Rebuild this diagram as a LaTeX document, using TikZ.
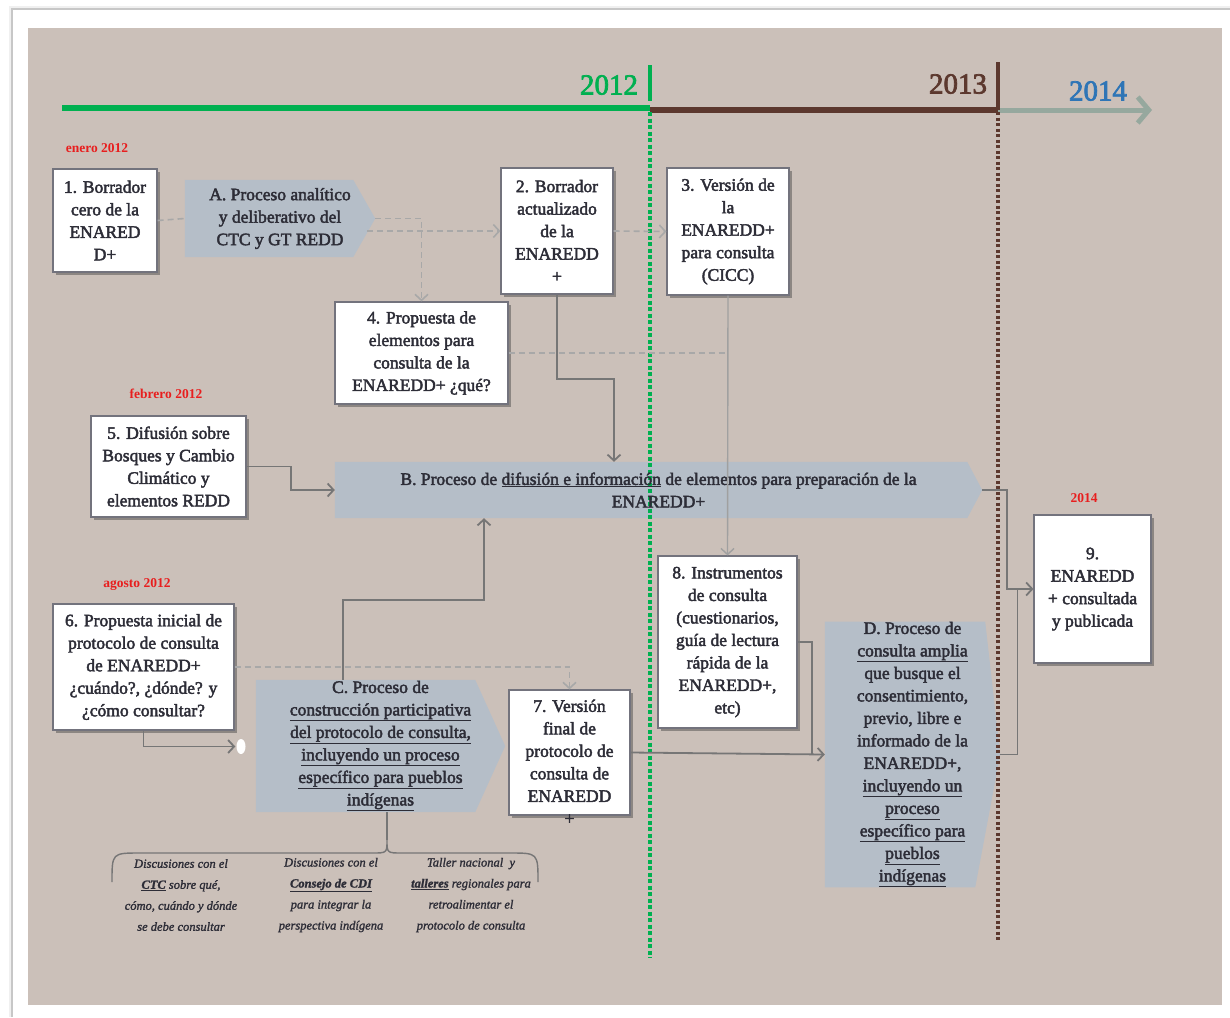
\documentclass[tikz,border=0pt]{standalone}
\usepackage{fontspec}
\setmainfont{Liberation Serif}
\newfontfamily\boxfont{Liberation Serif}[FakeBold=2.5]
\newfontfamily\itfont{Liberation Serif Italic}[FakeBold=1.5]
\usetikzlibrary{arrows.meta,shadows,shapes.geometric,calc}
\definecolor{bgbeige}{RGB}{203,192,185}
\definecolor{procfill}{RGB}{181,190,200}
\definecolor{tlgreen}{RGB}{0,176,80}
\definecolor{tlbrown}{RGB}{92,56,46}
\definecolor{tlgrey}{RGB}{150,168,158}
\definecolor{yrblue}{RGB}{46,117,182}
\definecolor{datered}{RGB}{232,30,30}
\definecolor{txt}{RGB}{45,45,55}
\definecolor{conn}{RGB}{118,118,118}
\definecolor{lconn}{RGB}{160,160,160}
\definecolor{dconn}{RGB}{168,168,168}
\definecolor{boxline}{RGB}{115,115,125}
\pgfdeclarelayer{back}
\pgfdeclarelayer{mid}
\pgfsetlayers{back,mid,main}
\tikzset{
  boxtext/.style={font=\boxfont\fontsize{17.5}{22.5}\selectfont, text=txt, align=center},
  wbox/.style={boxtext, draw=boxline, line width=1.2pt, fill=white, inner sep=0pt,
    drop shadow={shadow xshift=3pt, shadow yshift=-3pt, opacity=0.45, fill=black!75}},
  proc/.style={boxtext, inner sep=0pt},
  datelbl/.style={font=\bfseries\fontsize{13.5}{15}\selectfont, text=datered},
  yearlbl/.style={font=\boxfont\fontsize{29}{29}\selectfont},
  bracetext/.style={font=\itfont\fontsize{12.5}{21}\selectfont, text=txt, align=center},
  barb/.tip={Straight Barb[length=6pt,width=13pt]},
  arr/.style={draw=conn, line width=1.8pt, -barb},
  plainline/.style={draw=conn, line width=1.8pt},
  larr/.style={draw=lconn, line width=1.4pt, -barb},
  darr/.style={draw=dconn, line width=1.6pt, dash pattern=on 6pt off 4pt, -barb},
  dline/.style={draw=dconn, line width=1.6pt, dash pattern=on 6pt off 4pt},
}
\begin{document}
\begin{tikzpicture}[x=1pt,y=-1pt]
\useasboundingbox (0,0) rectangle (1230,1017);
\begin{pgfonlayer}{back}
  \fill[white] (0,0) rectangle (1230,1017);
  \fill[black!6] (9,6) rectangle (1230,1017);
  \fill[white] (13,10) rectangle (1230,1017);
  \draw[black!22, line width=1.2pt] (12,1017) -- (12,9) -- (1230,9);
  \fill[bgbeige] (28,28) rectangle (1222,1005);
\end{pgfonlayer}

% timeline
\draw[tlgreen, line width=6pt] (62,108) -- (650,108);
\draw[tlbrown, line width=6pt] (650,110) -- (998,110);
\draw[tlgrey, line width=5pt, -{Straight Barb[length=11pt,width=26pt]}] (998,110) -- (1152,110);
\draw[tlgreen, line width=3.5pt] (650,65) -- (650,101);
\draw[tlgreen, line width=4pt, dash pattern=on 4pt off 2.5pt] (650,112) -- (650,958);
\draw[tlbrown, line width=4pt] (998,62) -- (998,110);
\draw[tlbrown, line width=3.5pt, dash pattern=on 3pt off 2.5pt] (998,112) -- (998,942);
\node[yearlbl, text=tlgreen] (y12) at (609,85) {2012};
\node[yearlbl, text=tlbrown] (y13) at (958,84) {2013};
\node[yearlbl, text=yrblue] (y14) at (1098,91) {2014};

% dates
\node[datelbl] (d1) at (97,148) {enero 2012};
\node[datelbl] (d2) at (166,394) {febrero 2012};
\node[datelbl] (d3) at (137,584) {agosto 2012};
\node[datelbl] (d4) at (1084,498) {2014};

% process shapes (text nodes)
\node[proc, minimum width=190pt, minimum height=77pt] (A) at (280,218.5)
  {A. Proceso analítico\\y deliberativo del\\CTC y GT REDD};
\node[proc, minimum width=647pt, minimum height=56pt] (B) at (658.5,490)
  {B. Proceso de \underline{difusión e información} de elementos para preparación de la\\ENAREDD+};
\node[proc, minimum width=249pt, minimum height=132pt] (C) at (380.5,746)
  {C. Proceso de\\\underline{construcción participativa}\\\underline{del protocolo de consulta,}\\\underline{incluyendo un proceso}\\\underline{específico para pueblos}\\\underline{indígenas}};
\node[proc, minimum width=175pt, minimum height=265pt] (D) at (912.5,754.5)
  {D. Proceso de\\\underline{consulta amplia}\\que busque el\\consentimiento,\\previo, libre e\\informado de la\\ENAREDD+,\\\underline{incluyendo un}\\\underline{proceso}\\\underline{específico para}\\\underline{pueblos}\\\underline{indígenas}};

\begin{pgfonlayer}{mid}
  \fill[procfill] (A.north west) -- ([xshift=-22pt]A.north east) -- (A.east) -- ([xshift=-22pt]A.south east) -- (A.south west) -- cycle;
  \fill[procfill] (B.north west) -- ([xshift=-15pt]B.north east) -- (B.east) -- ([xshift=-15pt]B.south east) -- (B.south west) -- cycle;
  \fill[procfill] (C.north west) -- ([xshift=-30pt]C.north east) -- (C.east) -- ([xshift=-30pt]C.south east) -- (C.south west) -- cycle;
  \fill[procfill] (D.north west) -- ([xshift=-15pt]D.north east) -- (D.east) -- ([xshift=-25pt]D.south east) -- (D.south west) -- cycle;
\end{pgfonlayer}

% white boxes
\node[wbox, minimum width=104pt, minimum height=103pt] (b1) at (105,220.5)
  {1. Borrador\\cero de la\\ENARED\\D+};
\node[wbox, minimum width=112pt, minimum height=126pt] (b2) at (557,231)
  {2. Borrador\\actualizado\\de la\\ENAREDD\\+};
\node[wbox, minimum width=122pt, minimum height=127pt] (b3) at (728,231.5)
  {3. Versión de\\la\\ENAREDD+\\para consulta\\(CICC)};
\node[wbox, minimum width=173pt, minimum height=102pt] (b4) at (421.5,353)
  {4. Propuesta de\\elementos para\\consulta de la\\ENAREDD+ ¿qué?};
\node[wbox, minimum width=155pt, minimum height=101pt] (b5) at (168.5,466.5)
  {5. Difusión sobre\\Bosques y Cambio\\Climático y\\elementos REDD};
\node[wbox, minimum width=181pt, minimum height=126pt] (b6) at (143.5,667)
  {6. Propuesta inicial de\\protocolo de consulta\\de ENAREDD+\\¿cuándo?, ¿dónde? y\\¿cómo consultar?};
\node[wbox, minimum width=121pt, minimum height=125pt] (b7) at (569.5,752.5) {};
\node[proc] (t7) at (569.5,762) {7. Versión\\final de\\protocolo de\\consulta de\\ENAREDD\\+};
\node[wbox, minimum width=139pt, minimum height=172pt] (b8) at (727.5,642)
  {8. Instrumentos\\de consulta\\(cuestionarios,\\guía de lectura\\rápida de la\\ENAREDD+,\\etc)};
\node[wbox, minimum width=117pt, minimum height=148pt] (b9) at (1092.5,589)
  {9.\\ENAREDD\\+ consultada\\y publicada};

\node[ellipse, fill=white, inner sep=0pt, minimum width=9pt, minimum height=15pt] (dot) at (241,746.5) {};

% connectors
\coordinate (Aout) at ($(A.east)+(-8,0)$);
\draw[dline] (b1.east) -- (A.west);
\draw[darr] (A.east) -| (b4.north);
\draw[darr] (Aout |- b2.west) -- (b2.west);
\draw[darr] (b2.east) -- (b3.west);
\draw[dline] (b4.east) -- (b4.east -| b3.south);
\draw[larr] (b3.south) -- (b8.north);
\draw[arr] (b2.south) -- ++(0,84) -| ([xshift=-44.5pt]B.north);
\draw[arr] (b5.east) -- ++(44,0) |- (B.west);
\draw[arr] ([xshift=-37.5pt]C.north) -- ++(0,-80) -| ([xshift=-174.5pt]B.south);
\draw[arr, shorten >=1pt] (b6.south) |- (dot.west);
\draw[darr] (b6.east) -| (b7.north);
\coordinate (j8) at ($(b7.east)!0.933!(D.west)$);
\draw[arr] (b7.east) -- (D.west);
\draw[plainline] (b8.east) -| (j8);
\draw[arr] (B.east) -- ++(25,0) |- (b9.west);
\draw[plainline] (D.east) -| ($(b9.west)+(-16,0)$);

% brace and sub-activities
\coordinate (bt) at (387,840);
\draw[plainline] ([xshift=6.5pt]C.south) -- (bt);
\draw[conn, line width=1.4pt] (112,882) .. controls (112,853) .. (140,853) -- (372,853)
  .. controls (387,853) .. (bt) .. controls (387,853) .. (402,853) -- (510,853)
  .. controls (538,853) .. (538,882);
\node[bracetext] (s1) at (181,895) {Discusiones con el\\\underline{\textbf{CTC}} sobre qué,\\cómo, cuándo y dónde\\se debe consultar};
\node[bracetext] (s2) at (331,895) {Discusiones con el\\\underline{\textbf{Consejo de CDI}}\\para integrar la\\perspectiva indígena};
\node[bracetext] (s3) at (471,895) {Taller nacional \ y\\\underline{\textbf{talleres}} regionales para\\retroalimentar el\\protocolo de consulta};
\end{tikzpicture}
\end{document}
